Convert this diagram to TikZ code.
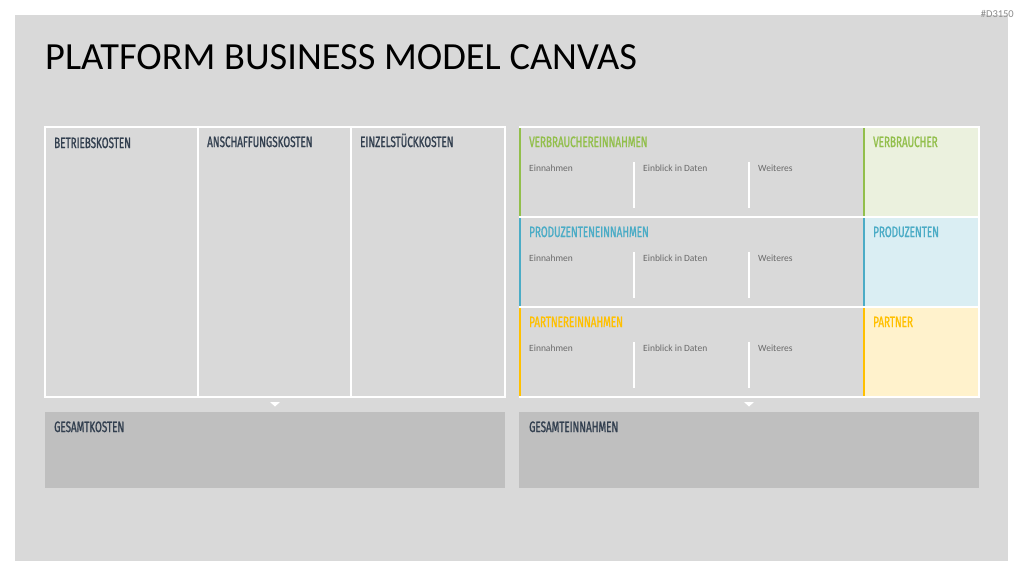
\documentclass[tikz,border=0pt]{standalone}
\usepackage{fontspec}
\setmainfont{Carlito}
\newfontfamily\hdfont[FakeStretch=0.66,FakeBold=1.2]{Fira Sans}
\newfontfamily\smfont{Carlito}
\definecolor{slide}{HTML}{D9D9D9}
\definecolor{dark}{HTML}{323F4F}
\definecolor{grn}{HTML}{92BF4B}
\definecolor{blu}{HTML}{4BACC6}
\definecolor{yel}{HTML}{FFC000}
\definecolor{lgrn}{HTML}{EBF1DE}
\definecolor{lblu}{HTML}{DAEEF3}
\definecolor{lyel}{HTML}{FFF2CC}
\definecolor{tot}{HTML}{BFBFBF}
\definecolor{smtxt}{HTML}{6A6A6A}
\begin{document}
\begin{tikzpicture}[x=1pt,y=-1pt,
  hd/.style={anchor=base west,inner sep=0pt,font=\hdfont\fontsize{15}{16}\selectfont},
  sm/.style={anchor=base west,inner sep=0pt,font=\smfont\fontsize{9.5}{10}\selectfont,text=smtxt},
  wline/.style={draw=white,line width=2pt},
  cline/.style={line width=2pt}]
\useasboundingbox (0,0) rectangle (1024,576);
\fill[white] (0,0) rectangle (1024,576);
\fill[slide] (15,15) rectangle (1008,561);
\node[anchor=base east,inner sep=0pt,text=gray!90,font=\smfont\fontsize{10.5}{11}\selectfont] (id) at (1014,17) {\#D3150};
\node[anchor=base west,inner sep=0pt,font=\fontsize{38.4}{40}\selectfont] (title) at (45,69) {PLATFORM BUSINESS MODEL CANVAS};
% left cost block
\draw[wline] (45,127) rectangle (505,397);
\draw[wline] (198,127) -- (198,397);
\draw[wline] (351,127) -- (351,397);
\node[hd,text=dark] (bk) at (54,148) {BETRIEBSKOSTEN};
\node[hd,text=dark] (ak) at (207,147) {ANSCHAFFUNGSKOSTEN};
\node[hd,text=dark] (ek) at (360,147) {EINZELSTÜCKKOSTEN};
% right block fills
\fill[lgrn] (864,127) rectangle (979,217);
\fill[lblu] (864,217) rectangle (979,307);
\fill[lyel] (864,307) rectangle (979,397);
\draw[wline] (520,127) rectangle (979,397);
\draw[wline] (520,217) -- (979,217);
\draw[wline] (520,307) -- (979,307);
\draw[cline,grn] (520,128) -- (520,216);
\draw[cline,grn] (864,128) -- (864,216);
\draw[cline,blu] (520,218) -- (520,306);
\draw[cline,blu] (864,218) -- (864,306);
\draw[cline,yel] (520,308) -- (520,396);
\draw[cline,yel] (864,308) -- (864,396);
\foreach \r/\c/\h/\s/\n in {0/grn/VERBRAUCHEREINNAHMEN/VERBRAUCHER/a,90/blu/PRODUZENTENEINNAHMEN/PRODUZENTEN/b,180/yel/PARTNEREINNAHMEN/PARTNER/c}{
  \node[hd,text=\c] (h\n) at (529,147+\r) {\h};
  \node[hd,text=\c] (s\n) at (873,147+\r) {\s};
  \node[sm] (e\n) at (529,171+\r) {Einnahmen};
  \node[sm] (d\n) at (643,171+\r) {Einblick in Daten};
  \node[sm] (w\n) at (758,171+\r) {Weiteres};
  \draw[wline] (634,162+\r) -- (634,208+\r);
  \draw[wline] (749,162+\r) -- (749,208+\r);
}
% arrows
\fill[white] (270,402) -- (280,402) -- (275,406.5) -- cycle;
\fill[white] (744,402) -- (754,402) -- (749,406.5) -- cycle;
% totals
\fill[tot] (45,412) rectangle (505,488);
\fill[tot] (519,412) rectangle (979,488);
\node[hd,text=dark] (gk) at (54,432) {GESAMTKOSTEN};
\node[hd,text=dark] (ge) at (529,432) {GESAMTEINNAHMEN};
\end{tikzpicture}
\end{document}
